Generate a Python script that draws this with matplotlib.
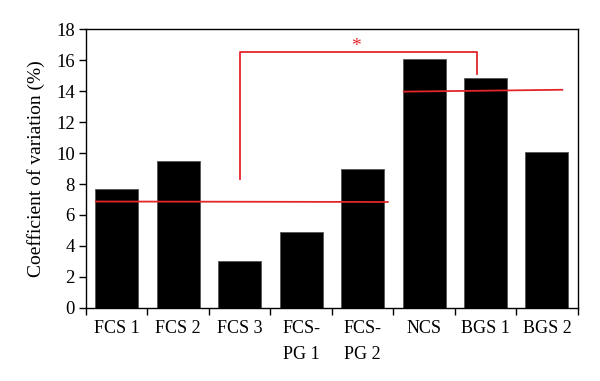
import matplotlib
matplotlib.use('Agg')
import matplotlib.pyplot as plt
import numpy as np

categories = ['FCS 1', 'FCS 2', 'FCS 3', 'FCS-\nPG 1', 'FCS-\nPG 2', 'NCS', 'BGS 1', 'BGS 2']
cv_values = [7.7, 9.5, 3.0, 4.9, 9.0, 16.1, 14.85, 10.1]

# red group mean lines and significance bracket (data coords)
left_mean_x = [-0.34, 4.41]
left_mean_y = [6.87, 6.84]
right_mean_x = [4.67, 7.25]
right_mean_y = [13.98, 14.1]
bracket_x = [2.0, 2.0, 5.86, 5.86]
bracket_y = [8.3, 16.55, 16.55, 15.15]
star_pos = (3.9, 16.9)

red = '#e3262a'
plt.rcParams['font.family'] = ['Liberation Serif', 'DejaVu Serif']

fig = plt.figure(figsize=(6, 3.81), dpi=100)
ax = fig.add_axes([0.1433, 0.1924, 0.8195, 0.7302])

x = np.arange(len(categories))
ax.bar(x, cv_values, width=0.7, color='black', edgecolor='#555555', linewidth=0.6)

ax.plot(left_mean_x, left_mean_y, color=red, lw=1.3)
ax.plot(right_mean_x, right_mean_y, color=red, lw=1.3)
ax.plot(bracket_x, bracket_y, color=red, lw=1.3)
ax.text(star_pos[0], star_pos[1], '*', color=red, fontsize=14, ha='center', va='center')

ax.set_xlim(-0.5, len(categories) - 0.5)
ax.set_ylim(0, 18)
ax.set_yticks(np.arange(0, 19, 2))
ax.set_xticks(np.arange(-0.5, len(categories), 1))
ax.set_xticklabels([])
ax.set_xticks(x, minor=True)
ax.set_xticklabels(categories, minor=True, linespacing=1.65, va='top')
ax.tick_params(axis='x', which='minor', length=0, pad=9, labelsize=13)
ax.tick_params(axis='x', which='major', direction='out', length=5, width=1)
ax.tick_params(axis='y', direction='out', length=5, width=1, labelsize=13.5, pad=3)
for s in ax.spines.values():
    s.set_linewidth(1)
ax.set_ylabel('Coefficient of variation (%)', fontsize=14, labelpad=8)

fig.savefig('out.png', dpi=100)
